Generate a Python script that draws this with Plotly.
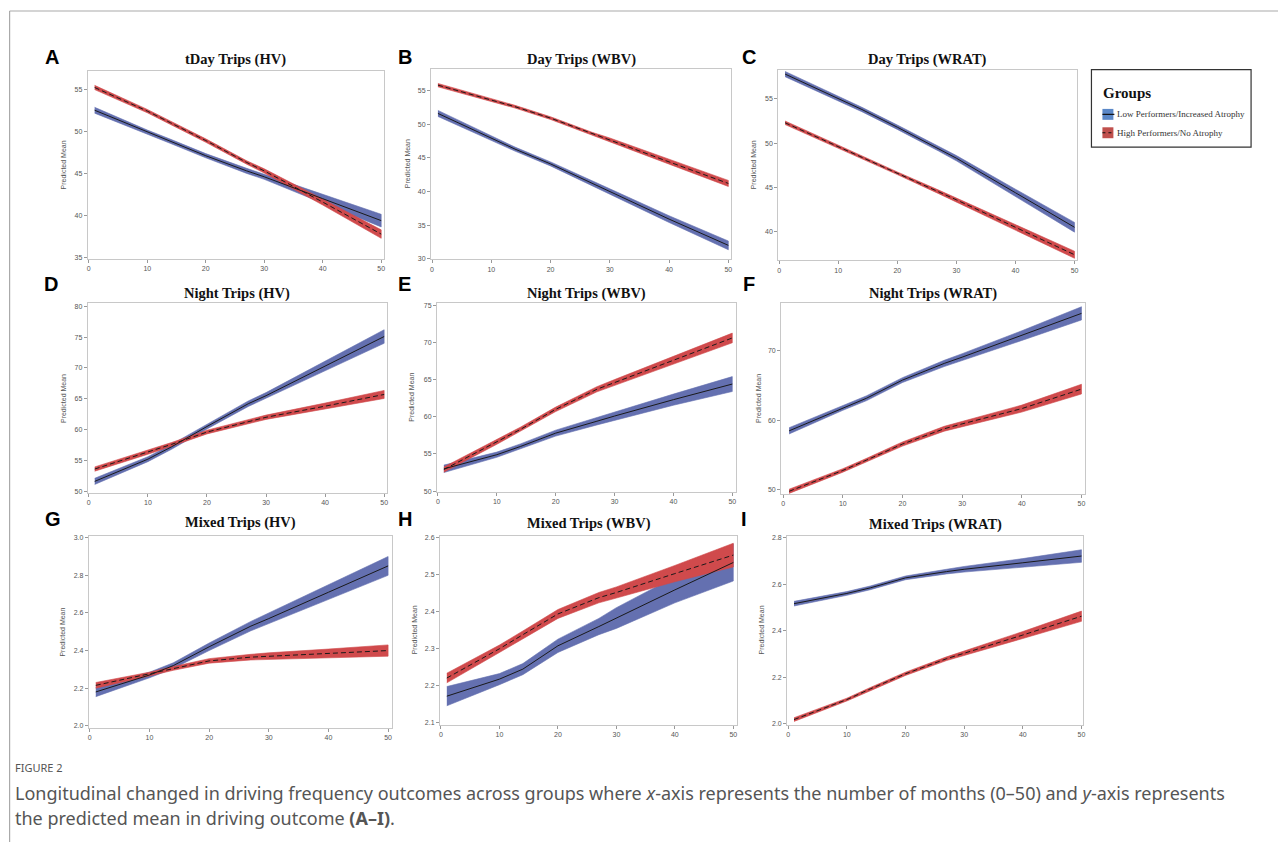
import plotly.graph_objects as go

# ---------------- data ----------------
months = [1, 10, 14, 20, 27, 30, 40, 50]

a_low = [52.5, 49.9, 48.8, 47.1, 45.3, 44.6, 42.0, 39.4]
a_low_ci = [0.35, 0.25, 0.25, 0.25, 0.3, 0.3, 0.5, 0.75]
a_high = [55.2, 52.4, 51.0, 48.9, 46.3, 45.3, 41.6, 37.8]
a_high_ci = [0.25, 0.2, 0.2, 0.2, 0.2, 0.25, 0.35, 0.5]

b_low = [51.6, 47.9, 46.3, 44.1, 41.2, 40.0, 35.9, 32.0]
b_low_ci = [0.45, 0.3, 0.3, 0.3, 0.35, 0.4, 0.5, 0.65]
b_high = [55.8, 53.6, 52.6, 50.9, 48.6, 47.7, 44.4, 41.2]
b_high_ci = [0.25, 0.2, 0.2, 0.2, 0.2, 0.25, 0.35, 0.45]

c_low = [57.8, 55.0, 53.8, 51.8, 49.4, 48.3, 44.4, 40.5]
c_low_ci = [0.3, 0.25, 0.25, 0.25, 0.3, 0.3, 0.4, 0.55]
c_high = [52.3, 49.6, 48.4, 46.6, 44.5, 43.6, 40.5, 37.4]
c_high_ci = [0.2, 0.15, 0.15, 0.15, 0.2, 0.2, 0.3, 0.4]

d_low = [51.6, 55.2, 57.2, 60.5, 64.2, 65.5, 70.3, 75.1]
d_low_ci = [0.5, 0.4, 0.4, 0.4, 0.45, 0.5, 0.8, 1.1]
d_high = [53.6, 56.3, 57.6, 59.6, 61.3, 62.0, 63.8, 65.7]
d_high_ci = [0.35, 0.3, 0.3, 0.3, 0.35, 0.35, 0.5, 0.65]

e_low = [53.0, 54.9, 56.0, 57.8, 59.4, 60.1, 62.3, 64.4]
e_low_ci = [0.5, 0.35, 0.35, 0.4, 0.5, 0.55, 0.75, 1.0]
e_high = [52.9, 56.6, 58.3, 61.0, 63.7, 64.6, 67.6, 70.6]
e_high_ci = [0.35, 0.3, 0.3, 0.3, 0.35, 0.4, 0.5, 0.65]

f_low = [58.5, 61.8, 63.2, 65.8, 68.2, 69.1, 72.2, 75.4]
f_low_ci = [0.45, 0.35, 0.35, 0.35, 0.45, 0.5, 0.7, 0.95]
f_high = [49.8, 52.8, 54.3, 56.6, 58.8, 59.5, 61.7, 64.5]
f_high_ci = [0.3, 0.25, 0.25, 0.3, 0.35, 0.35, 0.5, 0.7]

g_low = [2.18, 2.27, 2.32, 2.42, 2.53, 2.57, 2.71, 2.85]
g_low_ci = [0.025, 0.015, 0.015, 0.02, 0.025, 0.03, 0.04, 0.05]
g_high = [2.215, 2.275, 2.305, 2.345, 2.365, 2.37, 2.385, 2.40]
g_high_ci = [0.015, 0.01, 0.01, 0.012, 0.015, 0.018, 0.023, 0.03]

h_low = [2.172, 2.218, 2.245, 2.308, 2.360, 2.383, 2.459, 2.533]
h_low_ci = [0.026, 0.015, 0.015, 0.018, 0.022, 0.028, 0.035, 0.05]
h_high = [2.221, 2.300, 2.338, 2.394, 2.438, 2.452, 2.503, 2.553]
h_high_ci = [0.013, 0.01, 0.01, 0.012, 0.014, 0.015, 0.022, 0.032]

i_low = [2.517, 2.561, 2.585, 2.628, 2.655, 2.665, 2.693, 2.722]
i_low_ci = [0.01, 0.008, 0.008, 0.008, 0.01, 0.012, 0.018, 0.027]
i_high = [2.018, 2.104, 2.150, 2.215, 2.280, 2.303, 2.382, 2.463]
i_high_ci = [0.008, 0.006, 0.006, 0.007, 0.008, 0.01, 0.015, 0.022]

panel_letters = ["A", "B", "C", "D", "E", "F", "G", "H", "I"]
panel_titles = ["tDay Trips (HV)", "Day Trips (WBV)", "Day Trips (WRAT)",
                "Night Trips (HV)", "Night Trips (WBV)", "Night Trips (WRAT)",
                "Mixed Trips (HV)", "Mixed Trips (WBV)", "Mixed Trips (WRAT)"]
group_names = ["Low Performers/Increased Atrophy", "High Performers/No Atrophy"]
x_ticks = [0, 10, 20, 30, 40, 50]
y_ticks = [[35, 40, 45, 50, 55], [30, 35, 40, 45, 50, 55], [40, 45, 50, 55],
           [50, 55, 60, 65, 70, 75, 80], [50, 55, 60, 65, 70, 75], [50, 60, 70],
           [2.0, 2.2, 2.4, 2.6, 2.8, 3.0], [2.1, 2.2, 2.3, 2.4, 2.5, 2.6],
           [2.0, 2.2, 2.4, 2.6, 2.8]]

series = [(a_low, a_low_ci, a_high, a_high_ci), (b_low, b_low_ci, b_high, b_high_ci),
          (c_low, c_low_ci, c_high, c_high_ci), (d_low, d_low_ci, d_high, d_high_ci),
          (e_low, e_low_ci, e_high, e_high_ci), (f_low, f_low_ci, f_high, f_high_ci),
          (g_low, g_low_ci, g_high, g_high_ci), (h_low, h_low_ci, h_high, h_high_ci),
          (i_low, i_low_ci, i_high, i_high_ci)]

# ---------------- layout geometry (pixels in the page) ----------------
W, H = 1276, 834
OFF = 8


def fx(x):
    return (x - OFF) / W


def fy(y):
    return 1 - (y - OFF) / H


# plot boxes: left, right, top, bottom
boxes = [(87, 384, 69, 258), (431, 732, 67, 259), (779, 1079, 68, 260),
         (87, 387, 303, 494), (437, 737, 303, 493), (782, 1087, 303, 495),
         (88, 392, 537, 730), (440, 738, 537, 727), (788, 1085, 537, 727)]
x_ranges = [(-0.17, 50.5), (-0.17, 50.5), (-0.17, 50.5),
            (-0.17, 50.5), (-0.17, 50.68), (-0.33, 50.67),
            (-0.17, 50.67), (-0.17, 50.68), (-0.17, 50.34)]
y_ranges = [(34.9, 57.2), (29.9, 58.25), (36.75, 58.3),
            (49.7, 80.5), (49.87, 75.27), (49.4, 76.86),
            (1.99, 3.01), (2.095, 2.605), (1.996, 2.809)]
letter_pos = [(51, 55), (405, 55), (750, 55), (50, 284), (404, 284), (750, 284),
              (52, 520), (405, 520), (745, 520)]
title_y = [58, 58, 58, 293, 293, 293, 524, 525, 526]
ytitle_x = [63, 407, 754, 62, 412, 759, 62, 414, 762]

BLUE_BAND = "#6470b0"
RED_BAND = "#d04a4c"
AX_FONT = dict(family="Liberation Sans, Arial", size=7, color="#555")

fig = go.Figure()
annotations = []
shapes = []

for k in range(9):
    ax = "" if k == 0 else str(k + 1)
    low, low_ci, high, high_ci = series[k]
    for mean, ci, band, name in ((low, low_ci, BLUE_BAND, group_names[0]),
                                 (high, high_ci, RED_BAND, group_names[1])):
        upper = [m + c for m, c in zip(mean, ci)]
        lower = [m - c for m, c in zip(mean, ci)]
        fig.add_trace(go.Scatter(
            x=months + months[::-1], y=upper + lower[::-1],
            fill="toself", fillcolor=band, line=dict(width=0.6, color=band),
            mode="lines", xaxis="x" + ax, yaxis="y" + ax,
            showlegend=False, hoverinfo="skip", name=name))
    for mean, dash, name in ((low, "solid", group_names[0]), (high, "5px,3px", group_names[1])):
        fig.add_trace(go.Scatter(
            x=months, y=mean, mode="lines",
            line=dict(color="#1a1a1a", width=1, dash=dash),
            xaxis="x" + ax, yaxis="y" + ax, showlegend=False, name=name))

    l, r, t, b = boxes[k]
    common = dict(showline=True, mirror=True, linecolor="#c8c8c8", linewidth=1,
                  showgrid=False, zeroline=False, ticks="outside", ticklen=3,
                  tickcolor="#999", tickfont=AX_FONT)
    fig.update_layout({
        "xaxis" + ax: dict(domain=[fx(l), fx(r)], range=list(x_ranges[k]),
                           anchor="y" + ax, tickvals=x_ticks, **common),
        "yaxis" + ax: dict(domain=[fy(b), fy(t)], range=list(y_ranges[k]),
                           anchor="x" + ax, tickvals=y_ticks[k],
                           tickformat=".1f" if k >= 6 else "d", **common),
    })

    annotations.append(dict(text="<b>" + panel_titles[k] + "</b>", x=fx((l + r) / 2), y=fy(title_y[k]),
                            xref="paper", yref="paper", showarrow=False,
                            font=dict(family="Liberation Serif, Times New Roman", size=14.5, color="#111"),
                            xanchor="center", yanchor="middle"))
    lx, ly = letter_pos[k]
    annotations.append(dict(text="<b>" + panel_letters[k] + "</b>", x=fx(lx), y=fy(ly),
                            xref="paper", yref="paper", showarrow=False,
                            font=dict(family="Liberation Sans, Arial", size=20, color="#000"),
                            xanchor="center", yanchor="middle"))
    annotations.append(dict(text="Predicted Mean", x=fx(ytitle_x[k]), y=fy((t + b) / 2),
                            xref="paper", yref="paper", showarrow=False, textangle=-90,
                            font=AX_FONT, xanchor="center", yanchor="middle"))

# legend box
shapes.append(dict(type="rect", xref="paper", yref="paper", x0=fx(1093), x1=fx(1253),
                   y0=fy(146), y1=fy(68), line=dict(color="#333", width=1.2)))
annotations.append(dict(text="<b>Groups</b>", x=fx(1103), y=fy(92), xref="paper", yref="paper",
                        showarrow=False, xanchor="left", yanchor="middle",
                        font=dict(family="Liberation Serif, Times New Roman", size=15, color="#111")))
for j, (sw, ycen, dash) in enumerate((("#5b88c8", 113, "solid"), ("#c0504d", 131.5, "dot"))):
    shapes.append(dict(type="rect", xref="paper", yref="paper", x0=fx(1104), x1=fx(1115),
                       y0=fy(ycen + 5.5), y1=fy(ycen - 5.5), line=dict(width=0), fillcolor=sw))
    shapes.append(dict(type="line", xref="paper", yref="paper", x0=fx(1104), x1=fx(1116),
                       y0=fy(ycen), y1=fy(ycen), line=dict(color="#111", width=1.2, dash=dash)))
    annotations.append(dict(text=group_names[j], x=fx(1117), y=fy(ycen), xref="paper", yref="paper",
                            showarrow=False, xanchor="left", yanchor="middle",
                            font=dict(family="Liberation Serif, Times New Roman", size=9, color="#333")))

# outer frame (top, left, right)
for (x0, y0, x1, y1) in ((8.6, 9, 1283, 9), (8.6, 9, 8.6, 851), (1283, 9, 1283, 851)):
    shapes.append(dict(type="line", xref="paper", yref="paper", x0=fx(x0), x1=fx(x1),
                       y0=fy(y0), y1=fy(y1), line=dict(color="#aaa", width=1.2)))

# caption
annotations.append(dict(text="FIGURE 2", x=fx(12), y=fy(770), xref="paper", yref="paper",
                        showarrow=False, xanchor="left", yanchor="middle",
                        font=dict(family="Noto Sans", size=11, color="#555")))
annotations.append(dict(
    text="Longitudinal changed in driving frequency outcomes across groups where <i>x</i>-axis represents the number of months (0\u201350) and <i>y</i>-axis represents",
    x=fx(12), y=fy(796), xref="paper", yref="paper", showarrow=False, xanchor="left", yanchor="middle",
    font=dict(family="Noto Sans", size=18, color="#555")))
annotations.append(dict(
    text="the predicted mean in driving outcome <b>(A\u2013I)</b>.",
    x=fx(12), y=fy(821), xref="paper", yref="paper", showarrow=False, xanchor="left", yanchor="middle",
    font=dict(family="Noto Sans", size=18, color="#555")))

fig.update_layout(width=W, height=H, margin=dict(l=0, r=0, t=0, b=0, pad=0),
                  paper_bgcolor="white", plot_bgcolor="white",
                  annotations=annotations, shapes=shapes, showlegend=False)

fig.write_html("out.html")
